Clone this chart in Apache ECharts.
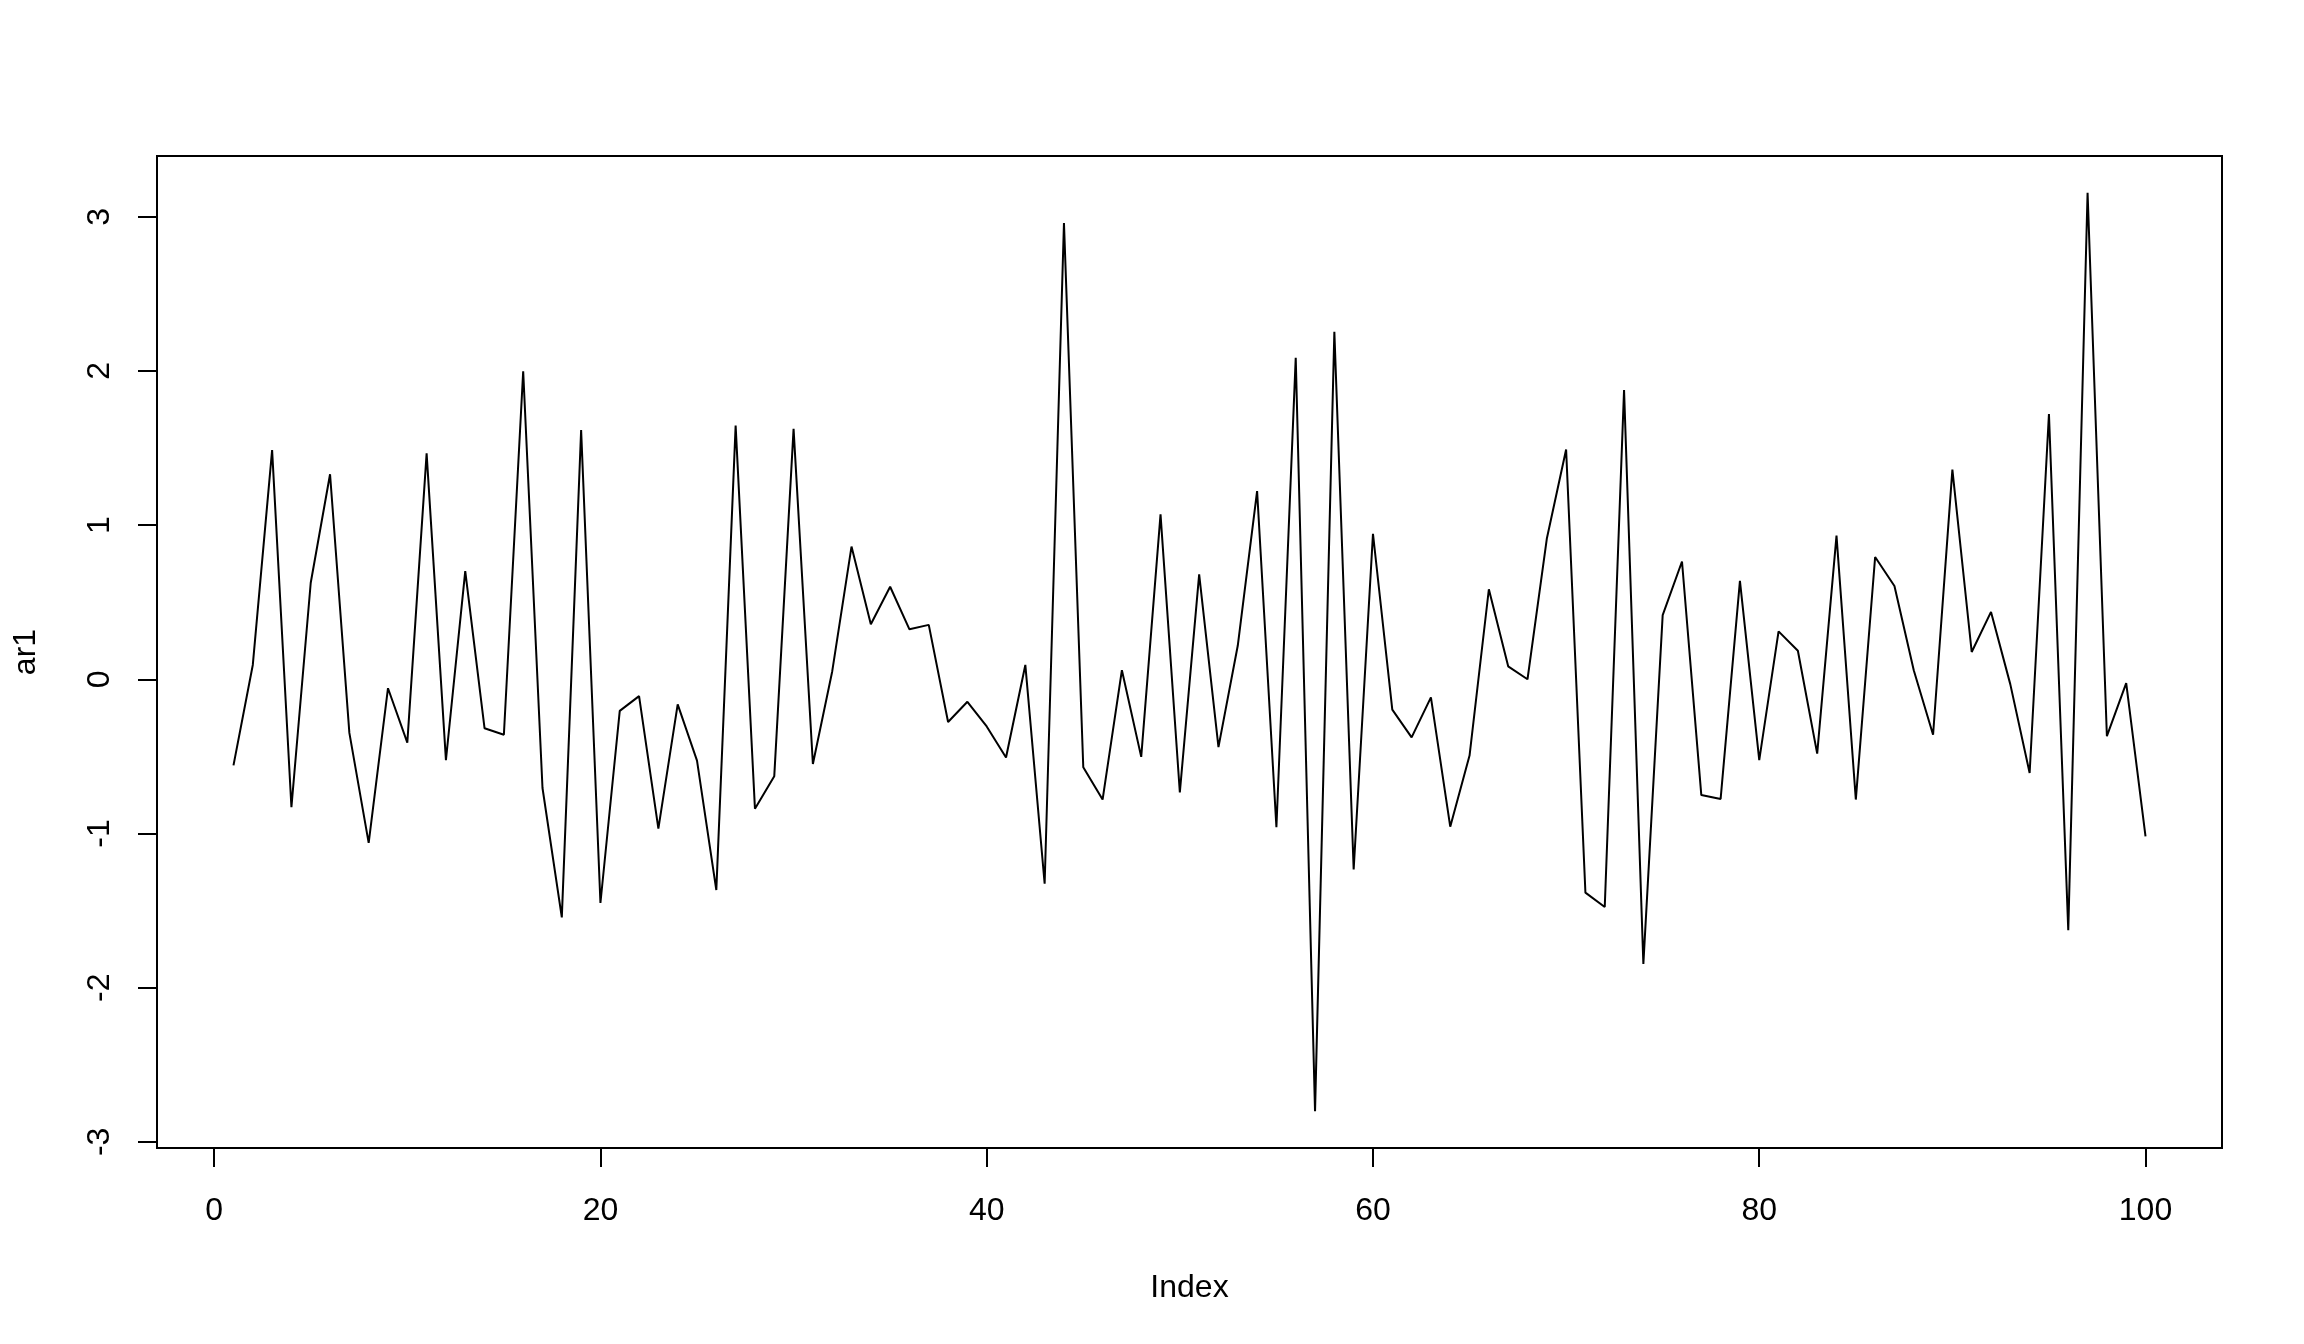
<!DOCTYPE html>
<html>
<head>
<meta charset="utf-8">
<script src="https://cdn.jsdelivr.net/npm/echarts@6/dist/echarts.min.js"></script>
<style>
html,body{margin:0;padding:0;background:#fff;}
#chart{width:2304px;height:1344px;}
</style>
</head>
<body>
<div id="chart"></div>
<script>
const indexValues = Array.from({length: 100}, (_, k) => k + 1);
const ar1 = [
  -0.558, 0.093, 1.486, -0.830, 0.626, 1.330, -0.348, -1.061, -0.058, -0.411,
  1.465, -0.524, 0.701, -0.318, -0.360, 1.998, -0.705, -1.544, 1.616, -1.451,
  -0.205, -0.109, -0.969, -0.163, -0.528, -1.367, 1.645, -0.839, -0.629, 1.624,
  -0.549, 0.051, 0.861, 0.357, 0.600, 0.324, 0.353, -0.277, -0.146, -0.306,
  -0.507, 0.093, -1.326, 2.959, -0.570, -0.780, 0.059, -0.503, 1.070, -0.734,
  0.680, -0.440, 0.219, 1.221, -0.960, 2.086, -2.802, 2.254, -1.233, 0.944,
  -0.197, -0.377, -0.117, -0.956, -0.495, 0.584, 0.084, 0.000, 0.911, 1.490,
  -1.384, -1.477, 1.876, -1.846, 0.416, 0.764, -0.751, -0.776, 0.638, -0.524,
  0.311, 0.185, -0.482, 0.932, -0.780, 0.793, 0.605, 0.059, -0.360, 1.360,
  0.177, 0.437, -0.033, -0.608, 1.721, -1.628, 3.156, -0.369, -0.025, -1.019
];
const xTicks = [0, 20, 40, 60, 80, 100];
const yTicks = [-3, -2, -1, 0, 1, 2, 3];

const chart = echarts.init(document.getElementById('chart'), null, {renderer: 'canvas'});
const fontFamily = '"Liberation Sans", Arial, sans-serif';
chart.setOption({
  animation: false,
  backgroundColor: '#ffffff',
  grid: {
    left: 157, top: 156, width: 2065, height: 992,
    show: true, borderColor: '#000', borderWidth: 2, backgroundColor: 'transparent'
  },
  xAxis: {
    type: 'value',
    min: -2.96, max: 103.96,
    name: 'Index', nameLocation: 'middle', nameGap: 124,
    nameTextStyle: {fontFamily, fontSize: 32, color: '#000'},
    axisLine: {show: false, onZero: false},
    splitLine: {show: false},
    axisTick: {show: true, length: 19, lineStyle: {color: '#000', width: 2}, customValues: xTicks},
    axisLabel: {fontFamily, fontSize: 32, color: '#000', margin: 47, customValues: xTicks}
  },
  yAxis: {
    type: 'value',
    min: -3.04, max: 3.394,
    name: 'ar1', nameLocation: 'middle', nameGap: 115, nameRotate: 90,
    nameTextStyle: {fontFamily, fontSize: 32, color: '#000'},
    axisLine: {show: false, onZero: false},
    splitLine: {show: false},
    axisTick: {show: true, length: 19, lineStyle: {color: '#000', width: 2}, customValues: yTicks},
    axisLabel: {fontFamily, fontSize: 32, color: '#000', margin: 41, rotate: 90, customValues: yTicks}
  },
  series: [{
    type: 'line',
    data: indexValues.map((x, k) => [x, ar1[k]]),
    showSymbol: false,
    symbol: 'none',
    lineStyle: {color: '#000', width: 2},
    clip: true
  }]
});
</script>
</body>
</html>
